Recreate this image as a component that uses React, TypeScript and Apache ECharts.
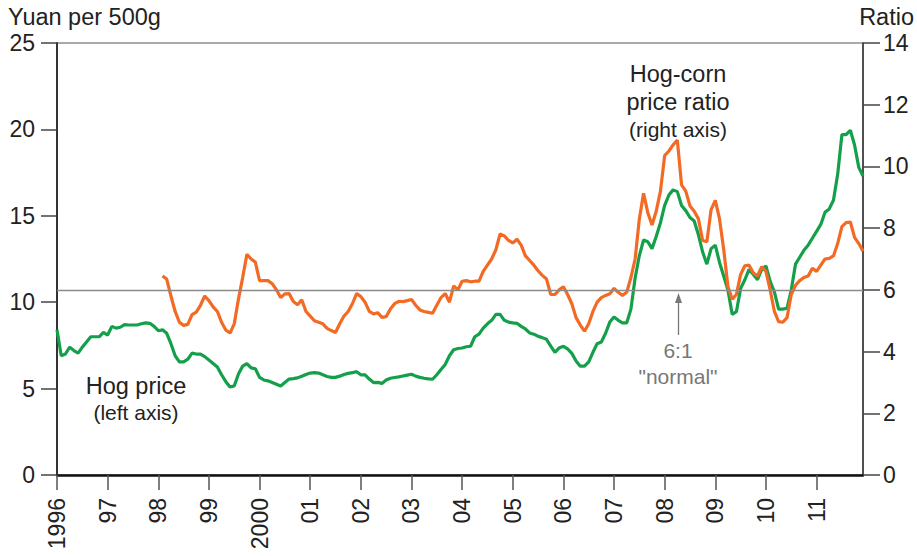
import React, { useEffect, useRef } from "react";
import * as echarts from "echarts";

// ---- Data (monthly, Jan 1996 – Dec 2011) ----
const YEARS = [1996, 1997, 1998, 1999, 2000, 2001, 2002, 2003, 2004, 2005, 2006, 2007, 2008, 2009, 2010, 2011];
const MONTHS: string[] = [];
YEARS.forEach((y) => {
  for (let m = 1; m <= 12; m++) MONTHS.push(`${y}-${m < 10 ? "0" + m : m}`);
});

// Hog price, yuan per 500g (left axis)
const HOG_PRICE = [
  8.4, 6.9, 7.0, 7.4, 7.2, 7.05, 7.4, 7.7, 8.0, 8.0, 8.0, 8.25,
  8.1, 8.6, 8.5, 8.55, 8.7, 8.68, 8.68, 8.68, 8.75, 8.8, 8.78, 8.6,
  8.35, 8.4, 8.2, 7.6, 6.9, 6.55, 6.55, 6.7, 7.05, 7.0, 7.0, 6.85,
  6.65, 6.45, 6.25, 5.8, 5.4, 5.1, 5.15, 5.85, 6.3, 6.45, 6.2, 6.15,
  5.65, 5.5, 5.45, 5.35, 5.25, 5.15, 5.35, 5.55, 5.58, 5.62, 5.72, 5.82,
  5.9, 5.92, 5.9, 5.8, 5.7, 5.65, 5.65, 5.72, 5.82, 5.88, 5.92, 5.98,
  5.8, 5.8, 5.55, 5.35, 5.36, 5.3, 5.5, 5.6, 5.64, 5.68, 5.73, 5.78,
  5.83, 5.72, 5.65, 5.6, 5.56, 5.54, 5.8, 6.1, 6.4, 6.9, 7.25, 7.32,
  7.35, 7.42, 7.45, 8.0, 8.15, 8.5, 8.75, 8.95, 9.3, 9.3, 8.95, 8.85,
  8.8, 8.78, 8.6, 8.45, 8.22, 8.15, 8.03, 7.95, 7.85, 7.46, 7.1, 7.35,
  7.45, 7.3, 7.04, 6.6, 6.3, 6.3, 6.55, 7.1, 7.6, 7.7, 8.2, 8.85,
  9.15, 8.95, 8.8, 8.8, 9.6, 11.4, 12.7, 13.6, 13.5, 13.1, 13.8, 14.6,
  15.6, 16.2, 16.5, 16.4, 15.6, 15.3, 14.9, 14.7, 13.9, 12.9, 12.2, 13.1,
  13.3, 12.3, 11.5, 10.7, 9.3, 9.45, 10.8, 11.3, 11.9, 11.6, 11.3, 11.9,
  12.1, 11.2, 10.6, 9.6, 9.6, 9.65, 10.7, 12.2, 12.6, 13.0, 13.3, 13.7,
  14.1, 14.5, 15.2, 15.4, 15.9, 17.4, 19.7, 19.7, 19.95, 19.1, 17.8, 17.3,
];

// Hog-corn price ratio (right axis), starting Feb 1998
const RATIO_START = "1998-02";
const HOG_CORN_RATIO = [
  6.45, 6.35, 5.8, 5.3, 4.95, 4.85, 4.88, 5.2, 5.28, 5.5, 5.8,
  5.65, 5.45, 5.3, 4.95, 4.7, 4.6, 4.9, 5.7, 6.4, 7.15, 7.0, 6.9,
  6.3, 6.3, 6.3, 6.2, 6.0, 5.75, 5.87, 5.88, 5.62, 5.52, 5.68, 5.3,
  5.15, 5.0, 4.95, 4.9, 4.75, 4.68, 4.62, 4.9, 5.15, 5.3, 5.55, 5.88,
  5.78, 5.6, 5.3, 5.22, 5.26, 5.11, 5.13, 5.38, 5.55, 5.63, 5.62, 5.65,
  5.69, 5.5, 5.35, 5.3, 5.27, 5.24, 5.5, 5.75, 5.88, 5.6, 6.13, 6.0,
  6.28, 6.3, 6.26, 6.28, 6.28, 6.6, 6.8, 7.0, 7.3, 7.81, 7.75, 7.6,
  7.52, 7.64, 7.45, 7.1, 6.95, 6.8, 6.62, 6.47, 6.35, 5.85, 5.85, 6.0,
  6.1, 5.85, 5.55, 5.1, 4.86, 4.66, 4.9, 5.3, 5.6, 5.75, 5.82, 5.87,
  6.05, 5.92, 5.82, 5.92, 6.4, 7.0, 8.3, 9.13, 8.5, 8.1, 8.55, 9.2,
  10.35, 10.5, 10.7, 10.85, 9.4, 9.2, 8.72, 8.55, 8.3, 7.6, 7.56, 8.6,
  8.9, 8.3, 7.3, 6.1, 5.7, 5.85, 6.5, 6.78, 6.8, 6.55, 6.45, 6.75,
  6.6, 6.0, 5.3, 4.97, 4.95, 5.1, 5.85, 6.15, 6.3, 6.4, 6.45, 6.7,
  6.6, 6.8, 7.0, 7.02, 7.1, 7.5, 8.05, 8.18, 8.2, 7.7, 7.5, 7.25,
];

const NORMAL_RATIO = 6;
const LEFT_TICKS = { min: 0, max: 25, interval: 5 };
const RIGHT_TICKS = { min: 0, max: 14, interval: 2 };

const GREEN = "#14a04a";
const ORANGE = "#f26a23";
const FONT = "'Liberation Sans', Arial, Helvetica, sans-serif";

function yearLabel(v: string): string {
  const y = parseInt(v.slice(0, 4), 10);
  if (y === 1996 || y === 2000) return String(y);
  return String(y).slice(2);
}

export default function App() {
  const ref = useRef<HTMLDivElement>(null);

  useEffect(() => {
    document.body.style.margin = "0";
    if (!ref.current) return;
    const chart = echarts.init(ref.current, undefined, { renderer: "svg" });

    const startIdx = MONTHS.indexOf(RATIO_START);
    const ratioData: (number | null)[] = MONTHS.map((_, i) =>
      i < startIdx ? null : HOG_CORN_RATIO[i - startIdx] ?? null
    );
    const isYearStart = (i: number) => i % 12 === 0;

    const textEl = (text: string, x: number, y: number, size: number, fill = "#222") => ({
      type: "text",
      x,
      y,
      silent: true,
      style: {
        text,
        fontSize: size,
        fontFamily: FONT,
        fill,
        align: "center",
        verticalAlign: "middle",
      },
    });

    chart.setOption({
      animation: false,
      textStyle: { fontFamily: FONT },
      grid: {
        left: 57,
        right: 54,
        top: 43,
        bottom: 81,
        show: true,
        borderColor: "#555",
        borderWidth: 1,
        backgroundColor: "transparent",
      },
      xAxis: {
        type: "category",
        data: MONTHS,
        boundaryGap: false,
        axisLine: { show: true, lineStyle: { color: "#111", width: 2.5 } },
        axisTick: {
          show: true,
          interval: (i: number) => isYearStart(i),
          length: 15,
          lineStyle: { color: "#555", width: 1.5 },
        },
        axisLabel: {
          interval: (i: number) => isYearStart(i),
          rotate: 90,
          margin: 23,
          fontSize: 23,
          color: "#222",
          formatter: (v: string) => yearLabel(v),
        },
        splitLine: { show: false },
      },
      yAxis: [
        {
          type: "value",
          position: "left",
          ...LEFT_TICKS,
          axisLine: { show: true, lineStyle: { color: "#333", width: 2 } },
          axisTick: { show: true, length: 16, lineStyle: { color: "#444", width: 1.5 } },
          axisLabel: { margin: 22, fontSize: 23, color: "#222" },
          splitLine: { show: false },
        },
        {
          type: "value",
          position: "right",
          ...RIGHT_TICKS,
          axisLine: { show: true, lineStyle: { color: "#333", width: 1.5 } },
          axisTick: { show: true, length: 17, lineStyle: { color: "#444", width: 1.5 } },
          axisLabel: { margin: 20, fontSize: 23, color: "#222" },
          splitLine: { show: false },
        },
      ],
      series: [
        {
          type: "line",
          yAxisIndex: 1,
          data: [],
          silent: true,
          markLine: {
            silent: true,
            symbol: ["none", "none"],
            label: { show: false },
            lineStyle: { color: "#8a8a8a", width: 1.3, type: "solid" },
            data: [{ yAxis: NORMAL_RATIO }],
          },
        },
        {
          name: "Hog price",
          type: "line",
          yAxisIndex: 0,
          data: HOG_PRICE,
          symbol: "none",
          lineStyle: { color: GREEN, width: 3.2 },
          itemStyle: { color: GREEN },
        },
        {
          name: "Hog-corn price ratio",
          type: "line",
          yAxisIndex: 1,
          data: ratioData,
          symbol: "none",
          connectNulls: false,
          lineStyle: { color: ORANGE, width: 3.2 },
          itemStyle: { color: ORANGE },
        },
      ],
      graphic: [
        {
          type: "text",
          x: 8,
          y: 17,
          silent: true,
          style: { text: "Yuan per 500g", fontSize: 23.5, fontFamily: FONT, fill: "#222", align: "left", verticalAlign: "middle" },
        },
        {
          type: "text",
          x: 914,
          y: 17,
          silent: true,
          style: { text: "Ratio", fontSize: 23.5, fontFamily: FONT, fill: "#222", align: "right", verticalAlign: "middle" },
        },
        textEl("Hog-corn", 678, 74, 23.5),
        textEl("price ratio", 678, 102, 23.5),
        textEl("(right axis)", 678, 129, 21),
        textEl("Hog price", 136, 386, 23.5),
        textEl("(left axis)", 136, 412, 21),
        textEl("6:1", 678, 350, 21, "#777"),
        textEl("\"normal\"", 678, 376, 21, "#777"),
        {
          type: "line",
          silent: true,
          shape: { x1: 678.5, y1: 300, x2: 678.5, y2: 335 },
          style: { stroke: "#777", lineWidth: 1.3 },
        },
        {
          type: "polygon",
          silent: true,
          shape: { points: [[678.5, 293], [675, 303], [682, 303]] },
          style: { fill: "#777" },
        },
      ],
    });

    return () => chart.dispose();
  }, []);

  return <div ref={ref} style={{ width: 917, height: 556 }} />;
}
